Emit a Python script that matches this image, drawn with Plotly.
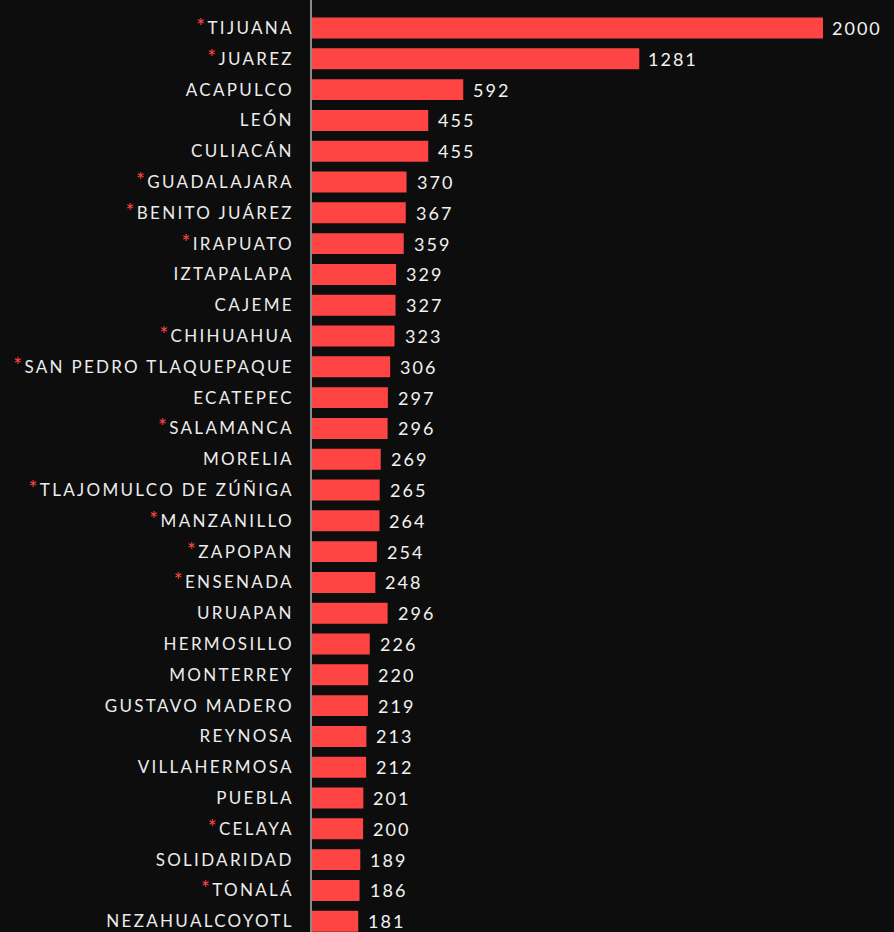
import plotly.graph_objects as go

cities = ["TIJUANA", "JUAREZ", "ACAPULCO", "LEÓN", "CULIACÁN", "GUADALAJARA",
          "BENITO JUÁREZ", "IRAPUATO", "IZTAPALAPA", "CAJEME", "CHIHUAHUA",
          "SAN PEDRO TLAQUEPAQUE", "ECATEPEC", "SALAMANCA", "MORELIA",
          "TLAJOMULCO DE ZÚÑIGA", "MANZANILLO", "ZAPOPAN", "ENSENADA", "URUAPAN",
          "HERMOSILLO", "MONTERREY", "GUSTAVO MADERO", "REYNOSA", "VILLAHERMOSA",
          "PUEBLA", "CELAYA", "SOLIDARIDAD", "TONALÁ", "NEZAHUALCOYOTL"]
values = [2000, 1281, 592, 455, 455, 370, 367, 359, 329, 327, 323, 306, 297, 296,
          269, 265, 264, 254, 248, 296, 226, 220, 219, 213, 212, 201, 200, 189, 186, 181]
starred = ["TIJUANA", "JUAREZ", "GUADALAJARA", "BENITO JUÁREZ", "IRAPUATO",
           "CHIHUAHUA", "SAN PEDRO TLAQUEPAQUE", "SALAMANCA", "TLAJOMULCO DE ZÚÑIGA",
           "MANZANILLO", "ZAPOPAN", "ENSENADA", "CELAYA", "TONALÁ"]

RED = "#ff4444"
BG = "#0d0d0d"
FONT = "Lato"

ticktext = [("<span style='color:%s;font-size:21px'>*</span>" % RED if c in starred else "") + c
            for c in cities]

fig = go.Figure()
fig.add_trace(go.Bar(
    x=values, y=cities, orientation="h",
    marker=dict(color=RED, line=dict(width=0)),
    width=0.68, hoverinfo="skip",
))

for c, v in zip(cities, values):
    fig.add_annotation(x=v, y=c, text=str(v), showarrow=False,
                       xanchor="left", yanchor="middle", xshift=11,
                       font=dict(family=FONT, size=18, color="#f2f2f2"))

fig.update_layout(
    width=894, height=932,
    margin=dict(l=312, r=0, t=0, b=0),
    paper_bgcolor=BG, plot_bgcolor=BG,
    showlegend=False,
    xaxis=dict(range=[0, 2278], visible=False, showgrid=False, zeroline=False),
    yaxis=dict(type="category", categoryorder="array", categoryarray=cities,
               tickvals=cities, ticktext=ticktext,
               range=[29.35, -0.91], showgrid=False, zeroline=False,
               showline=True, linecolor="#8a8a8a", linewidth=1.5,
               ticks="", ticklabelstandoff=13,
               tickfont=dict(family=FONT, size=17, color="#ececec")),
)

post = """
var s=document.createElement('style');
s.innerHTML='body{margin:0;overflow:hidden} .ytick text{letter-spacing:2.3px} .annotation-text{letter-spacing:2px}';
document.head.appendChild(s);
"""
fig.write_html("out.html", post_script=post, config={"displayModeBar": False})
